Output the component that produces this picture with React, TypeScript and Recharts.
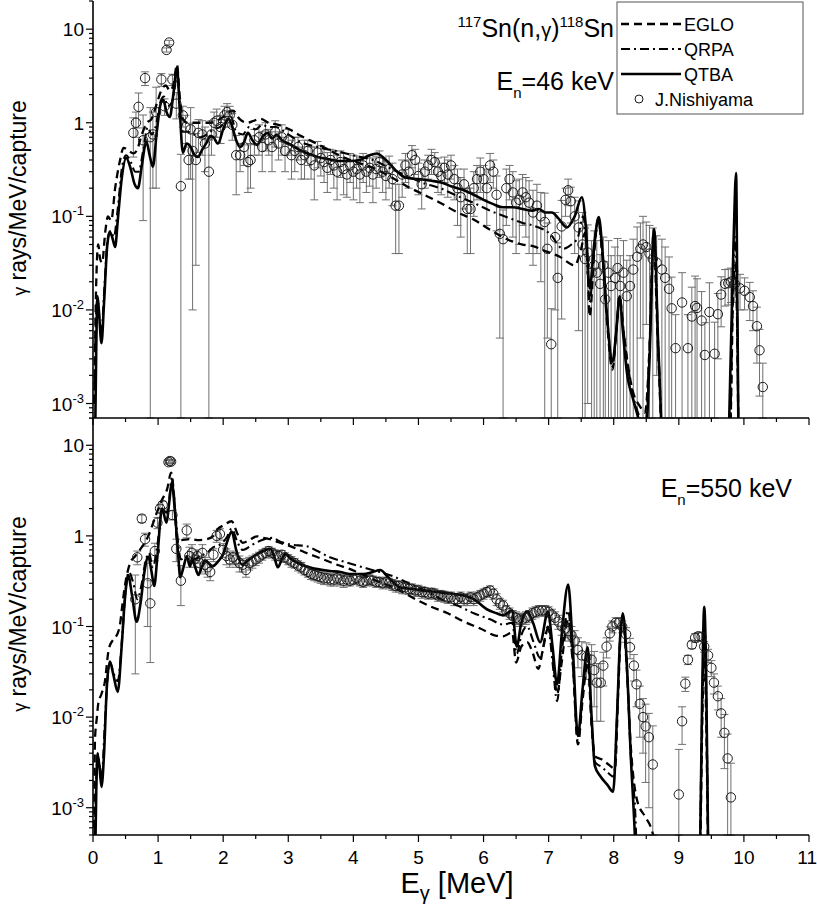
import React from "react";
import { ComposedChart, Line, Scatter, XAxis, YAxis, ErrorBar } from "recharts";

const FONT = '"Liberation Sans", Arial, Helvetica, sans-serif';

// ---------- axis ticks ----------
const xMajorTicks = [0, 1, 2, 3, 4, 5, 6, 7, 8, 9, 10, 11];
const xTickLabels = ["0", "1", "2", "3", "4", "5", "6", "7", "8", "9", "10", "11"];
const xMinorTicks = [0.5, 1.5, 2.5, 3.5, 4.5, 5.5, 6.5, 7.5, 8.5, 9.5, 10.5];
const yMajorTicks = [0.001, 0.01, 0.1, 1, 10];
const yTickBase = ["10", "10", "10", "1", "10"];
const yTickExp = ["-3", "-2", "-1", "", ""];
const yMinorFactors = [2, 3, 4, 5, 6, 7, 8, 9];

const topDomain = [7e-4, 20];
const bottomDomain = [5e-4, 20];

const seriesNames = ["EGLO", "QRPA", "QTBA", "J.Nishiyama"];

// ---------- top panel (En = 46 keV) ----------
const topEgloE = [0.02, 0.05, 0.08, 0.11, 0.14, 0.19, 0.23, 0.28, 0.34, 0.41, 0.47, 0.55, 0.62, 0.67, 0.75, 0.83, 0.9, 0.98, 1.06, 1.12, 1.18, 1.24, 1.29, 1.33, 1.38, 1.45, 1.55, 1.69, 1.8, 1.9, 2.0, 2.15, 2.25, 2.37, 2.47, 2.57, 2.7, 2.85, 3.03, 3.2, 3.35, 3.54, 3.75, 3.95, 4.3, 4.55, 4.82, 5.05, 5.33, 5.6, 5.84, 6.1, 6.36, 6.6, 6.76, 6.97, 7.17, 7.4, 7.5, 7.56, 7.6, 7.63, 7.7, 7.76, 7.83, 7.9, 7.98, 8.04, 8.09, 8.15, 8.22, 8.3, 8.4, 8.48, 8.55, 8.61, 8.67, 8.73, 8.8, 9.75, 9.8, 9.84, 9.87, 9.9, 9.93, 11];
const topEgloY = [0.001, 0.02, 0.05, 0.035, 0.032, 0.07, 0.1, 0.09, 0.2, 0.38, 0.54, 0.5, 0.47, 0.5, 0.75, 1.0, 1.1, 1.6, 2.3, 2.5, 2.2, 2.6, 4.2, 2.0, 1.1, 1.0, 1.0, 1.0, 1.0, 1.05, 1.15, 1.35, 1.1, 1.0, 1.05, 1.1, 1.0, 0.95, 0.84, 0.72, 0.64, 0.55, 0.46, 0.4, 0.33, 0.27, 0.21, 0.175, 0.14, 0.11, 0.093, 0.072, 0.057, 0.05, 0.048, 0.042, 0.037, 0.03, 0.045, 0.067, 0.03, 0.0085, 0.04, 0.093, 0.035, 0.007, 0.0023, 0.006, 0.014, 0.006, 0.0025, 0.0013, 0.00094, 0.0008, 0.004, 0.065, 0.006, 0.0005, 0.00001, 0.00001, 0.0008, 0.02, 0.03, 0.005, 0.0001, 0.00001];

const topQrpaE = [0.02, 0.05, 0.07, 0.1, 0.13, 0.18, 0.23, 0.27, 0.32, 0.38, 0.45, 0.51, 0.58, 0.65, 0.7, 0.77, 0.84, 0.9, 0.96, 1.04, 1.09, 1.15, 1.2, 1.25, 1.29, 1.33, 1.38, 1.45, 1.55, 1.65, 1.75, 1.85, 1.95, 2.05, 2.12, 2.2, 2.3, 2.4, 2.5, 2.6, 2.7, 2.8, 3.0, 3.2, 3.45, 3.79, 4.05, 4.3, 4.55, 4.82, 5.05, 5.33, 5.6, 5.84, 6.1, 6.36, 6.6, 6.76, 7.02, 7.22, 7.35, 7.45, 7.53, 7.58, 7.63, 7.7, 7.76, 7.83, 7.9, 7.98, 8.04, 8.09, 8.15, 8.22, 8.3, 8.4, 8.48, 8.55, 8.62, 8.68, 8.74, 8.8, 9.75, 9.8, 9.84, 9.87, 9.9, 9.93, 11];
const topQrpaY = [0.001, 0.01, 0.013, 0.008, 0.006, 0.02, 0.06, 0.07, 0.06, 0.12, 0.35, 0.45, 0.38, 0.3, 0.3, 0.5, 0.9, 0.75, 0.9, 1.7, 1.9, 1.5, 1.6, 2.2, 3.5, 1.6, 0.8, 0.8, 0.75, 0.7, 0.75, 0.85, 0.9, 1.05, 1.15, 0.8, 0.75, 0.9, 0.85, 0.95, 0.9, 0.9, 0.75, 0.62, 0.55, 0.49, 0.44, 0.4, 0.33, 0.27, 0.23, 0.2, 0.165, 0.14, 0.115, 0.098, 0.085, 0.08, 0.065, 0.045, 0.05, 0.06, 0.1, 0.05, 0.012, 0.045, 0.09, 0.035, 0.008, 0.0025, 0.006, 0.013, 0.006, 0.0024, 0.0012, 0.0007, 0.0005, 0.004, 0.068, 0.005, 0.0004, 0.00001, 0.00001, 0.001, 0.03, 0.06, 0.004, 0.0001, 0.00001];

const topQtbaE = [0.03, 0.05, 0.07, 0.09, 0.13, 0.17, 0.22, 0.26, 0.3, 0.34, 0.38, 0.44, 0.51, 0.58, 0.64, 0.69, 0.75, 0.82, 0.87, 0.92, 0.98, 1.04, 1.08, 1.13, 1.18, 1.23, 1.29, 1.33, 1.38, 1.44, 1.5, 1.56, 1.61, 1.68, 1.75, 1.8, 1.85, 1.92, 2.0, 2.08, 2.13, 2.2, 2.26, 2.32, 2.38, 2.45, 2.52, 2.6, 2.68, 2.75, 2.82, 2.9, 3.0, 3.1, 3.2, 3.3, 3.45, 3.6, 3.8, 3.95, 4.1, 4.25, 4.36, 4.5, 4.65, 4.8, 5.0, 5.2, 5.35, 5.5, 5.7, 5.85, 6.0, 6.15, 6.3, 6.45, 6.6, 6.75, 6.85, 6.95, 7.05, 7.15, 7.28, 7.4, 7.51, 7.57, 7.63, 7.7, 7.77, 7.83, 7.9, 7.98, 8.04, 8.09, 8.14, 8.2, 8.3, 8.4, 8.48, 8.55, 8.62, 8.68, 8.74, 8.8, 9.7, 9.78, 9.84, 9.88, 9.9, 9.93, 11];
const topQtbaY = [0.0003, 0.004, 0.014, 0.01, 0.0044, 0.012, 0.05, 0.068, 0.058, 0.047, 0.09, 0.25, 0.42, 0.32, 0.22, 0.2, 0.35, 0.63, 0.45, 0.34, 0.8, 1.6, 1.75, 1.3, 1.15, 1.9, 3.9, 1.5, 0.48, 0.6, 0.55, 0.45, 0.43, 0.52, 0.62, 0.72, 0.7, 0.6, 0.85, 1.1, 0.95, 0.65, 0.55, 0.62, 0.78, 0.65, 0.58, 0.7, 0.78, 0.68, 0.75, 0.65, 0.6, 0.55, 0.5, 0.47, 0.43, 0.41, 0.39, 0.39, 0.4, 0.45, 0.47, 0.4, 0.31, 0.26, 0.25, 0.24, 0.23, 0.21, 0.19, 0.17, 0.15, 0.135, 0.125, 0.125, 0.12, 0.115, 0.12, 0.11, 0.11, 0.095, 0.076, 0.1, 0.16, 0.08, 0.017, 0.05, 0.098, 0.04, 0.008, 0.0028, 0.006, 0.014, 0.006, 0.0022, 0.0011, 0.0006, 0.0003, 0.003, 0.073, 0.005, 0.0004, 0.00001, 0.00001, 0.001, 0.05, 0.29, 0.01, 0.0001, 0.00001];

const topExpE = [0.62, 0.66, 0.7, 0.77, 0.8, 0.88, 0.92, 0.97, 1.05, 1.1, 1.13, 1.17, 1.22, 1.28, 1.35, 1.38, 1.42, 1.47, 1.5, 1.53, 1.58, 1.62, 1.68, 1.72, 1.78, 1.82, 1.86, 1.9, 1.96, 2.02, 2.06, 2.1, 2.14, 2.2, 2.26, 2.32, 2.38, 2.42, 2.48, 2.55, 2.6, 2.65, 2.7, 2.75, 2.8, 2.85, 2.9, 2.95, 3.0, 3.05, 3.1, 3.15, 3.2, 3.25, 3.3, 3.35, 3.4, 3.45, 3.5, 3.55, 3.6, 3.65, 3.7, 3.75, 3.8, 3.85, 3.9, 3.95, 4.0, 4.05, 4.1, 4.15, 4.2, 4.25, 4.3, 4.35, 4.4, 4.45, 4.5, 4.55, 4.6, 4.65, 4.7, 4.75, 4.8, 4.85, 4.9, 4.95, 5.0, 5.05, 5.1, 5.15, 5.2, 5.25, 5.3, 5.35, 5.4, 5.45, 5.5, 5.55, 5.6, 5.65, 5.7, 5.75, 5.8, 5.85, 5.9, 5.95, 6.0, 6.05, 6.1, 6.15, 6.2, 6.25, 6.3, 6.35, 6.4, 6.45, 6.5, 6.55, 6.6, 6.65, 6.7, 6.76, 6.82, 6.88, 6.94, 6.98, 7.04, 7.1, 7.14, 7.2, 7.26, 7.3, 7.34, 7.4, 7.46, 7.52, 7.56, 7.6, 7.66, 7.7, 7.74, 7.79, 7.84, 7.87, 7.92, 7.96, 8.02, 8.06, 8.1, 8.15, 8.2, 8.25, 8.3, 8.36, 8.41, 8.45, 8.5, 8.55, 8.6, 8.66, 8.74, 8.79, 8.85, 8.89, 8.95, 9.05, 9.14, 9.2, 9.25, 9.28, 9.35, 9.4, 9.47, 9.55, 9.6, 9.65, 9.71, 9.76, 9.8, 9.86, 9.94, 10.01, 10.09, 10.14, 10.2, 10.24, 10.29];
const topExpY = [0.78, 1.0, 1.48, 0.65, 3.0, 0.7, 0.75, 1.3, 2.9, 1.5, 6.0, 7.2, 2.9, 1.6, 0.21, 1.2, 0.9, 0.4, 0.85, 0.5, 0.4, 0.78, 0.75, 0.6, 0.3, 0.75, 1.0, 1.05, 0.9, 1.2, 1.3, 1.2, 0.95, 0.45, 0.45, 0.55, 0.38, 0.4, 0.65, 0.7, 0.55, 0.75, 0.65, 0.55, 0.8, 0.6, 0.7, 0.5, 0.65, 0.45, 0.5, 0.55, 0.4, 0.45, 0.5, 0.4, 0.35, 0.48, 0.42, 0.38, 0.33, 0.4, 0.35, 0.3, 0.38, 0.32, 0.28, 0.35, 0.3, 0.32, 0.28, 0.35, 0.3, 0.33, 0.28, 0.32, 0.38, 0.3, 0.27, 0.32, 0.25, 0.13, 0.13, 0.28, 0.35, 0.3, 0.45, 0.4, 0.27, 0.22, 0.3, 0.35, 0.4, 0.38, 0.3, 0.27, 0.33, 0.28, 0.35, 0.25, 0.2, 0.16, 0.22, 0.12, 0.12, 0.2, 0.25, 0.3, 0.25, 0.2, 0.35, 0.3, 0.17, 0.065, 0.057, 0.2, 0.25, 0.18, 0.14, 0.15, 0.18, 0.16, 0.14, 0.11, 0.13, 0.1, 0.087, 0.045, 0.0043, 0.06, 0.022, 0.078, 0.15, 0.19, 0.145, 0.1, 0.076, 0.05, 0.035, 0.041, 0.025, 0.03, 0.025, 0.019, 0.03, 0.013, 0.025, 0.018, 0.022, 0.028, 0.018, 0.025, 0.014, 0.018, 0.027, 0.037, 0.045, 0.05, 0.047, 0.04, 0.035, 0.032, 0.027, 0.022, 0.0168, 0.0104, 0.0039, 0.012, 0.0039, 0.0085, 0.011, 0.0105, 0.0077, 0.0033, 0.0095, 0.0034, 0.009, 0.0146, 0.019, 0.0193, 0.02, 0.019, 0.017, 0.016, 0.0137, 0.011, 0.0067, 0.0037, 0.0015];
const topExpErr = [0.35, 0.3, 0.6, 0.56, 0.5, 0.75, 0.55, 1.1, 0.45, 0.3, 0.3, 0.4, 0.4, 0.5, 0.25, 0.3, 0.3, 0.15, 0.6, 0.49, 0.37, 0.3, 0.3, 0.3, 0.35, 0.3, 0.3, 0.35, 0.3, 0.3, 0.3, 0.3, 0.3, 0.28, 0.15, 0.2, 0.2, 0.2, 0.2, 0.25, 0.25, 0.25, 0.2, 0.25, 0.25, 0.2, 0.25, 0.2, 0.2, 0.2, 0.2, 0.15, 0.15, 0.2, 0.15, 0.15, 0.2, 0.15, 0.15, 0.15, 0.15, 0.12, 0.15, 0.15, 0.12, 0.15, 0.12, 0.12, 0.15, 0.12, 0.14, 0.12, 0.12, 0.12, 0.14, 0.12, 0.12, 0.12, 0.12, 0.12, 0.12, 0.09, 0.09, 0.12, 0.12, 0.1, 0.12, 0.12, 0.1, 0.1, 0.1, 0.1, 0.12, 0.1, 0.12, 0.1, 0.1, 0.12, 0.1, 0.1, 0.12, 0.1, 0.1, 0.08, 0.08, 0.1, 0.1, 0.12, 0.1, 0.12, 0.12, 0.1, 0.1, 0.06, 0.06, 0.12, 0.1, 0.12, 0.1, 0.1, 0.1, 0.1, 0.1, 0.08, 0.09, 0.08, 0.09, 0.04, 0.006, 0.05, 0.03, 0.07, 0.05, 0.06, 0.06, 0.06, 0.07, 0.06, 0.04, 0.04, 0.03, 0.04, 0.03, 0.02, 0.03, 0.02, 0.03, 0.02, 0.025, 0.03, 0.02, 0.03, 0.02, 0.02, 0.03, 0.04, 0.04, 0.05, 0.04, 0.04, 0.04, 0.03, 0.03, 0.025, 0.02, 0.012, 0.005, 0.013, 0.005, 0.009, 0.012, 0.011, 0.008, 0.004, 0.01, 0.004, 0.006, 0.008, 0.008, 0.008, 0.008, 0.007, 0.007, 0.006, 0.006, 0.005, 0.004, 0.0025, 0.0012];

// ---------- bottom panel (En = 550 keV) ----------
const botEgloE = [0.02, 0.03, 0.06, 0.08, 0.13, 0.18, 0.24, 0.3, 0.34, 0.41, 0.45, 0.49, 0.57, 0.65, 0.75, 0.85, 0.98, 1.06, 1.14, 1.2, 1.25, 1.29, 1.35, 1.49, 1.6, 1.75, 1.85, 1.92, 2.0, 2.13, 2.22, 2.3, 2.4, 2.52, 2.62, 2.72, 2.85, 3.03, 3.25, 3.54, 3.75, 3.95, 4.05, 4.35, 4.67, 4.9, 5.18, 5.45, 5.69, 5.95, 6.2, 6.3, 6.44, 6.5, 6.58, 6.67, 6.76, 6.84, 6.92, 7.0, 7.06, 7.13, 7.2, 7.3, 7.37, 7.45, 7.52, 7.6, 7.66, 7.71, 7.82, 7.92, 8.02, 8.07, 8.11, 8.14, 8.2, 8.26, 8.36, 8.48, 8.59, 8.7, 8.8, 9.3, 9.34, 9.37, 9.39, 9.42, 9.45, 9.5, 11];
const botEgloY = [0.0006, 0.0056, 0.01, 0.014, 0.018, 0.024, 0.055, 0.07, 0.075, 0.1, 0.17, 0.28, 0.5, 0.6, 0.75, 1.0, 1.8, 2.5, 3.3, 5.0, 2.5, 0.92, 0.9, 0.92, 0.9, 0.92, 1.0, 1.2, 1.3, 1.45, 1.05, 0.84, 0.9, 0.99, 0.95, 0.92, 0.85, 0.77, 0.66, 0.55, 0.48, 0.43, 0.4, 0.32, 0.26, 0.21, 0.167, 0.14, 0.114, 0.095, 0.079, 0.078, 0.086, 0.04, 0.06, 0.067, 0.05, 0.034, 0.06, 0.1, 0.05, 0.018, 0.04, 0.12, 0.04, 0.005, 0.015, 0.04, 0.008, 0.0037, 0.0034, 0.003, 0.0027, 0.02, 0.09, 0.12, 0.035, 0.005, 0.0012, 0.0008, 0.00055, 0.0002, 0.00001, 0.00001, 0.001, 0.02, 0.05, 0.01, 0.0003, 0.00001, 0.00001];

const botQrpaE = [0.02, 0.05, 0.07, 0.1, 0.13, 0.18, 0.22, 0.26, 0.32, 0.38, 0.45, 0.5, 0.55, 0.62, 0.68, 0.75, 0.8, 0.86, 0.92, 0.99, 1.06, 1.13, 1.17, 1.21, 1.26, 1.31, 1.35, 1.45, 1.55, 1.65, 1.75, 1.85, 1.95, 2.05, 2.13, 2.22, 2.3, 2.45, 2.6, 2.75, 2.9, 3.05, 3.28, 3.45, 3.64, 3.85, 4.1, 4.35, 4.6, 4.85, 5.1, 5.35, 5.6, 5.85, 6.1, 6.3, 6.44, 6.51, 6.58, 6.67, 6.76, 6.87, 6.99, 7.06, 7.13, 7.2, 7.3, 7.37, 7.45, 7.52, 7.6, 7.66, 7.71, 7.82, 7.92, 8.0, 8.06, 8.1, 8.14, 8.2, 8.26, 8.34, 8.4, 9.3, 9.34, 9.37, 9.39, 9.42, 9.45, 9.5, 11];
const botQrpaY = [0.0003, 0.002, 0.004, 0.003, 0.002, 0.008, 0.025, 0.04, 0.03, 0.025, 0.08, 0.25, 0.4, 0.3, 0.2, 0.3, 0.5, 0.65, 0.45, 0.8, 2.0, 1.8, 2.5, 4.3, 2.0, 0.8, 0.55, 0.6, 0.55, 0.6, 0.65, 0.75, 0.8, 0.95, 1.2, 0.85, 0.7, 0.8, 0.9, 0.95, 0.85, 0.8, 0.77, 0.68, 0.58, 0.52, 0.46, 0.41, 0.36, 0.3, 0.25, 0.2, 0.17, 0.14, 0.12, 0.105, 0.11, 0.05, 0.08, 0.1, 0.07, 0.045, 0.1, 0.04, 0.015, 0.05, 0.15, 0.04, 0.0055, 0.017, 0.05, 0.009, 0.0032, 0.0028, 0.0024, 0.0022, 0.015, 0.08, 0.13, 0.04, 0.004, 0.0006, 0.00001, 0.00001, 0.002, 0.03, 0.09, 0.02, 0.0005, 0.00001, 0.00001];

const botQtbaE = [0.03, 0.05, 0.07, 0.1, 0.13, 0.17, 0.21, 0.26, 0.31, 0.38, 0.44, 0.49, 0.54, 0.6, 0.67, 0.73, 0.79, 0.85, 0.9, 0.94, 0.99, 1.06, 1.13, 1.17, 1.21, 1.26, 1.31, 1.34, 1.39, 1.44, 1.49, 1.52, 1.57, 1.62, 1.67, 1.72, 1.78, 1.83, 1.92, 2.0, 2.07, 2.13, 2.2, 2.29, 2.4, 2.52, 2.62, 2.72, 2.78, 2.84, 2.9, 2.95, 3.05, 3.15, 3.28, 3.45, 3.64, 3.8, 3.95, 4.15, 4.3, 4.41, 4.55, 4.72, 4.9, 5.05, 5.18, 5.4, 5.69, 5.85, 6.05, 6.2, 6.3, 6.44, 6.51, 6.58, 6.67, 6.76, 6.87, 6.99, 7.06, 7.13, 7.2, 7.3, 7.37, 7.45, 7.52, 7.6, 7.66, 7.71, 7.8, 7.9, 7.99, 8.05, 8.1, 8.14, 8.2, 8.26, 8.33, 8.4, 9.28, 9.33, 9.36, 9.39, 9.42, 9.45, 9.5, 11];
const botQtbaY = [0.0002, 0.0015, 0.0039, 0.0028, 0.0017, 0.004, 0.02, 0.041, 0.03, 0.019, 0.06, 0.2, 0.37, 0.22, 0.113, 0.18, 0.4, 0.59, 0.4, 0.28, 0.6, 2.0, 1.4, 2.3, 3.9, 1.8, 0.6, 0.35, 0.45, 0.59, 0.46, 0.55, 0.45, 0.37, 0.45, 0.53, 0.5, 0.46, 0.52, 0.63, 0.9, 1.12, 0.7, 0.48, 0.55, 0.63, 0.68, 0.72, 0.6, 0.45, 0.55, 0.63, 0.55, 0.5, 0.46, 0.43, 0.41, 0.4, 0.38, 0.38, 0.4, 0.42, 0.34, 0.27, 0.26, 0.25, 0.245, 0.235, 0.22, 0.2, 0.155, 0.14, 0.133, 0.15, 0.06, 0.11, 0.146, 0.11, 0.067, 0.146, 0.06, 0.023, 0.08, 0.29, 0.06, 0.0062, 0.02, 0.059, 0.01, 0.0029, 0.0022, 0.0018, 0.0015, 0.01, 0.08, 0.14, 0.04, 0.004, 0.0004, 0.00001, 0.00001, 0.0005, 0.02, 0.165, 0.03, 0.0004, 0.00001, 0.00001];

const botExpE = [0.65, 0.68, 0.75, 0.8, 0.84, 0.88, 0.95, 0.99, 1.03, 1.07, 1.16, 1.18, 1.2, 1.22, 1.28, 1.35, 1.44, 1.48, 1.52, 1.56, 1.6, 1.64, 1.68, 1.72, 1.76, 1.8, 1.85, 1.9, 1.95, 2.0, 2.05, 2.1, 2.15, 2.2, 2.25, 2.3, 2.35, 2.4, 2.45, 2.5, 2.55, 2.6, 2.65, 2.7, 2.75, 2.8, 2.85, 2.9, 2.95, 3.0, 3.05, 3.1, 3.15, 3.2, 3.25, 3.3, 3.35, 3.4, 3.45, 3.5, 3.55, 3.6, 3.65, 3.7, 3.75, 3.8, 3.85, 3.9, 3.95, 4.0, 4.05, 4.1, 4.15, 4.2, 4.25, 4.3, 4.35, 4.4, 4.45, 4.5, 4.55, 4.6, 4.65, 4.7, 4.75, 4.8, 4.85, 4.9, 4.95, 5.0, 5.05, 5.1, 5.15, 5.2, 5.25, 5.3, 5.35, 5.4, 5.45, 5.5, 5.55, 5.6, 5.65, 5.7, 5.75, 5.8, 5.85, 5.9, 5.95, 6.0, 6.05, 6.1, 6.15, 6.2, 6.25, 6.3, 6.35, 6.4, 6.45, 6.5, 6.55, 6.6, 6.65, 6.7, 6.75, 6.8, 6.85, 6.9, 6.95, 7.0, 7.05, 7.1, 7.15, 7.2, 7.25, 7.3, 7.35, 7.4, 7.45, 7.51, 7.58, 7.66, 7.7, 7.74, 7.8, 7.84, 7.89, 7.94, 7.98, 8.03, 8.08, 8.13, 8.19, 8.25, 8.31, 8.35, 8.4, 8.45, 8.49, 8.54, 8.6, 9.0, 9.05, 9.1, 9.14, 9.2, 9.25, 9.3, 9.35, 9.39, 9.45, 9.5, 9.54, 9.6, 9.65, 9.7, 9.75, 9.8];
const botExpY = [0.2, 0.58, 1.55, 0.92, 0.3, 0.18, 0.68, 1.4, 2.0, 2.2, 6.5, 6.7, 6.6, 1.7, 0.72, 0.32, 1.15, 0.6, 0.65, 0.55, 0.6, 0.5, 0.65, 0.48, 0.45, 0.4, 0.62, 1.0, 1.05, 0.7, 0.6, 0.55, 0.58, 0.55, 0.5, 0.48, 0.42, 0.5, 0.52, 0.55, 0.58, 0.62, 0.65, 0.68, 0.65, 0.62, 0.6, 0.62, 0.58, 0.55, 0.52, 0.5, 0.47, 0.45, 0.42, 0.4, 0.38, 0.37, 0.36, 0.35, 0.34, 0.34, 0.33, 0.33, 0.34, 0.33, 0.32, 0.33, 0.32, 0.33, 0.34, 0.32, 0.31, 0.32, 0.33, 0.32, 0.31, 0.31, 0.3, 0.31, 0.3, 0.29, 0.28, 0.28, 0.27, 0.27, 0.26, 0.26, 0.25, 0.25, 0.24, 0.24, 0.23, 0.235, 0.23, 0.22, 0.22, 0.215, 0.21, 0.21, 0.2, 0.2, 0.21, 0.2, 0.2, 0.21, 0.2, 0.21, 0.22, 0.23, 0.24, 0.25, 0.23, 0.2, 0.18, 0.17, 0.15, 0.14, 0.13, 0.125, 0.12, 0.12, 0.125, 0.13, 0.14, 0.145, 0.15, 0.15, 0.15, 0.145, 0.135, 0.125, 0.113, 0.1, 0.095, 0.089, 0.08, 0.07, 0.055, 0.048, 0.046, 0.043, 0.033, 0.024, 0.024, 0.037, 0.06, 0.084, 0.1, 0.11, 0.11, 0.1, 0.082, 0.059, 0.037, 0.023, 0.014, 0.01, 0.0079, 0.006, 0.003, 0.0014, 0.009, 0.0234, 0.043, 0.063, 0.075, 0.078, 0.077, 0.06, 0.048, 0.035, 0.024, 0.017, 0.011, 0.0067, 0.0035, 0.0013];
const botExpErr = [0.17, 0.1, 0.15, 0.15, 0.2, 0.14, 0.15, 0.2, 0.2, 0.2, 0.3, 0.3, 0.3, 0.2, 0.2, 0.15, 0.2, 0.15, 0.15, 0.1, 0.1, 0.1, 0.15, 0.1, 0.1, 0.08, 0.1, 0.15, 0.15, 0.12, 0.12, 0.1, 0.1, 0.1, 0.1, 0.08, 0.07, 0.08, 0.08, 0.08, 0.08, 0.08, 0.08, 0.08, 0.08, 0.08, 0.07, 0.07, 0.07, 0.07, 0.07, 0.06, 0.06, 0.06, 0.05, 0.05, 0.05, 0.05, 0.05, 0.05, 0.05, 0.05, 0.05, 0.05, 0.05, 0.05, 0.05, 0.05, 0.04, 0.04, 0.04, 0.04, 0.04, 0.04, 0.04, 0.04, 0.04, 0.04, 0.04, 0.04, 0.04, 0.04, 0.04, 0.04, 0.04, 0.04, 0.035, 0.035, 0.035, 0.035, 0.035, 0.03, 0.03, 0.03, 0.03, 0.03, 0.03, 0.03, 0.03, 0.03, 0.03, 0.03, 0.03, 0.03, 0.03, 0.03, 0.03, 0.03, 0.03, 0.03, 0.03, 0.03, 0.03, 0.03, 0.025, 0.025, 0.02, 0.02, 0.02, 0.02, 0.02, 0.02, 0.02, 0.02, 0.02, 0.02, 0.02, 0.02, 0.02, 0.02, 0.02, 0.02, 0.02, 0.02, 0.02, 0.02, 0.02, 0.02, 0.02, 0.02, 0.02, 0.02, 0.02, 0.015, 0.015, 0.015, 0.015, 0.015, 0.015, 0.015, 0.015, 0.015, 0.015, 0.015, 0.012, 0.01, 0.008, 0.006, 0.006, 0.005, 0.005, 0.003, 0.004, 0.0042, 0.005, 0.006, 0.008, 0.008, 0.008, 0.008, 0.008, 0.007, 0.006, 0.005, 0.005, 0.004, 0.003, 0.0018, 0.0015];

// ---------- helpers ----------
const zipLine = (xs: number[], ys: number[]) => xs.map((x, i) => ({ x, y: ys[i] }));
const zipExp = (xs: number[], ys: number[], es: number[], yMin: number) =>
  xs.map((x, i) => ({ x, y: ys[i], err: [ys[i] - Math.max(ys[i] - es[i], yMin), es[i]] }));

const buildYTicks = (domain: number[]) => {
  const out: number[] = [];
  for (let d = -4; d <= 1; d++) {
    const base = Math.pow(10, d);
    [1, ...yMinorFactors].forEach((f) => {
      const v = f * base;
      if (v >= domain[0] && v <= domain[1]) out.push(v);
    });
  }
  return out;
};

const xAllTicks = [...xMajorTicks, ...xMinorTicks].sort((a, b) => a - b);

const AXIS = { stroke: "#000", strokeWidth: 1.6 };

const renderYTick = (props: any) => {
  const { x, y, payload } = props;
  const v = payload.value;
  const idx = yMajorTicks.findIndex((m) => Math.abs(Math.log10(m) - Math.log10(v)) < 1e-6);
  const major = idx >= 0;
  return (
    <g>
      <line x1={x} x2={x - (major ? 7 : 4)} y1={y} y2={y} stroke="#000" strokeWidth={1.2} />
      {major && (
        <text x={x - 9} y={y + 7} textAnchor="end" fontSize={19} fontFamily={FONT} fill="#000">
          {yTickBase[idx]}
          {yTickExp[idx] !== "" && (
            <tspan dy={-8} fontSize={13}>
              {yTickExp[idx]}
            </tspan>
          )}
        </text>
      )}
    </g>
  );
};

const makeXTick = (showLabel: boolean) => (props: any) => {
  const { x, y, payload } = props;
  const v = payload.value;
  const idx = xMajorTicks.indexOf(v);
  const major = idx >= 0;
  const isLast = idx === xMajorTicks.length - 1;
  return (
    <g>
      <line x1={x} x2={x} y1={y} y2={y + (major ? 7 : 4)} stroke="#000" strokeWidth={1.2} />
      {showLabel && major && (
        <text
          x={isLast ? x + 8 : x}
          y={y + 29}
          textAnchor={isLast ? "end" : "middle"}
          fontSize={19}
          fontFamily={FONT}
          fill="#000"
        >
          {xTickLabels[idx]}
        </text>
      )}
    </g>
  );
};

const renderCircle = (props: any) => {
  const { cx, cy } = props;
  if (cx == null || cy == null) return <g />;
  return <circle cx={cx} cy={cy} r={4.7} fill="none" stroke="#1a1a1a" strokeWidth={1} />;
};

type PanelProps = {
  height: number;
  xAxisHeight: number;
  marginTop: number;
  domain: number[];
  eglo: any[];
  qrpa: any[];
  qtba: any[];
  exp: any[];
  showXLabels: boolean;
};

function Panel({ height, xAxisHeight, marginTop, domain, eglo, qrpa, qtba, exp, showXLabels }: PanelProps) {
  const yTicks = buildYTicks(domain);
  return (
    <ComposedChart width={817} height={height} margin={{ top: marginTop, right: 8, bottom: 0, left: 0 }}>
      <XAxis
        dataKey="x"
        type="number"
        domain={[0, 11]}
        ticks={xAllTicks}
        interval={0}
        allowDataOverflow
        tickSize={0}
        tickMargin={0}
        tickLine={false}
        tick={makeXTick(showXLabels)}
        height={xAxisHeight}
        axisLine={AXIS}
      />
      <XAxis xAxisId="frameTop" orientation="top" type="number" domain={[0, 11]} height={0} tick={false} tickLine={false} axisLine={AXIS} />
      <YAxis
        type="number"
        scale="log"
        domain={domain}
        allowDataOverflow
        ticks={yTicks}
        interval={0}
        width={93}
        tickSize={0}
        tickMargin={0}
        tickLine={false}
        tick={renderYTick}
        axisLine={AXIS}
      />
      <YAxis yAxisId="frameRight" orientation="right" type="number" domain={[0, 1]} width={0} tick={false} tickLine={false} axisLine={AXIS} />
      <Scatter name={seriesNames[3]} data={exp} dataKey="y" isAnimationActive={false} shape={renderCircle}>
        <ErrorBar dataKey="err" direction="y" width={4} stroke="#707070" strokeWidth={1} />
      </Scatter>
      <Line name={seriesNames[0]} data={eglo} dataKey="y" type="monotone" dot={false} stroke="#000" strokeWidth={2.3} strokeDasharray="8 5" isAnimationActive={false} />
      <Line name={seriesNames[1]} data={qrpa} dataKey="y" type="monotone" dot={false} stroke="#000" strokeWidth={2.1} strokeDasharray="9 4 2 4" isAnimationActive={false} />
      <Line name={seriesNames[2]} data={qtba} dataKey="y" type="monotone" dot={false} stroke="#000" strokeWidth={2.6} isAnimationActive={false} />
    </ComposedChart>
  );
}

export default function App() {
  const topEglo = zipLine(topEgloE, topEgloY);
  const topQrpa = zipLine(topQrpaE, topQrpaY);
  const topQtba = zipLine(topQtbaE, topQtbaY);
  const topExp = zipExp(topExpE, topExpY, topExpErr, topDomain[0]);
  const botEglo = zipLine(botEgloE, botEgloY);
  const botQrpa = zipLine(botQrpaE, botQrpaY);
  const botQtba = zipLine(botQtbaE, botQtbaY);
  const botExp = zipExp(botExpE, botExpY, botExpErr, bottomDomain[0]);

  return (
    <div style={{ position: "absolute", left: 0, top: 0, width: 817, height: 919, background: "#fff", fontFamily: FONT }}>
      <div style={{ position: "absolute", left: 0, top: 0 }}>
        <Panel height={426} xAxisHeight={8} marginTop={1} domain={topDomain} eglo={topEglo} qrpa={topQrpa} qtba={topQtba} exp={topExp} showXLabels={false} />
      </div>
      <div style={{ position: "absolute", left: 0, top: 418 }}>
        <Panel height={477} xAxisHeight={60} marginTop={0} domain={bottomDomain} eglo={botEglo} qrpa={botQrpa} qtba={botQtba} exp={botExp} showXLabels={true} />
      </div>
      <svg width={817} height={919} style={{ position: "absolute", left: 0, top: 0, pointerEvents: "none" }} fontFamily={FONT}>
        {/* y-axis titles */}
        <text transform="translate(26,198) rotate(-90)" textAnchor="middle" fontSize={23} fill="#000">
          <tspan fontSize={18}>γ</tspan> rays/MeV/capture
        </text>
        <text transform="translate(26,614) rotate(-90)" textAnchor="middle" fontSize={23} fill="#000">
          <tspan fontSize={18}>γ</tspan> rays/MeV/capture
        </text>
        {/* x-axis title */}
        <text x={457} y={893} textAnchor="middle" fontSize={29} fill="#000">
          E<tspan dy={7} fontSize={20}>γ</tspan>
          <tspan dy={-7}> [MeV]</tspan>
        </text>
        {/* reaction label */}
        <text x={614} y={37} textAnchor="end" fontSize={25} fill="#000">
          <tspan dy={-10} fontSize={15}>117</tspan>
          <tspan dy={10}>Sn(n,</tspan>
          <tspan fontSize={20}>γ</tspan>
          <tspan>)</tspan>
          <tspan dy={-10} fontSize={15}>118</tspan>
          <tspan dy={10}>Sn</tspan>
        </text>
        <text x={614} y={90} textAnchor="end" fontSize={25} fill="#000">
          E<tspan dy={8} fontSize={15}>n</tspan>
          <tspan dy={-8}>=46 keV</tspan>
        </text>
        <text x={792} y={497} textAnchor="end" fontSize={25} fill="#000">
          E<tspan dy={8} fontSize={15}>n</tspan>
          <tspan dy={-8}>=550 keV</tspan>
        </text>
        {/* legend */}
        <rect x={617} y={2} width={186} height={112} fill="#fff" stroke="#555" strokeWidth={1} />
        <line x1={621} x2={681} y1={24} y2={24} stroke="#000" strokeWidth={2.3} strokeDasharray="8 5" />
        <text x={684} y={31} fontSize={18} fill="#000">{seriesNames[0]}</text>
        <line x1={621} x2={681} y1={49} y2={49} stroke="#000" strokeWidth={2.1} strokeDasharray="9 4 2 4" />
        <text x={684} y={56} fontSize={18} fill="#000">{seriesNames[1]}</text>
        <line x1={621} x2={681} y1={74} y2={74} stroke="#000" strokeWidth={2.6} />
        <text x={684} y={81} fontSize={18} fill="#000">{seriesNames[2]}</text>
        <circle cx={639} cy={99} r={4} fill="none" stroke="#1a1a1a" strokeWidth={1} />
        <text x={655} y={106} fontSize={18} fill="#000">{seriesNames[3]}</text>
      </svg>
    </div>
  );
}
